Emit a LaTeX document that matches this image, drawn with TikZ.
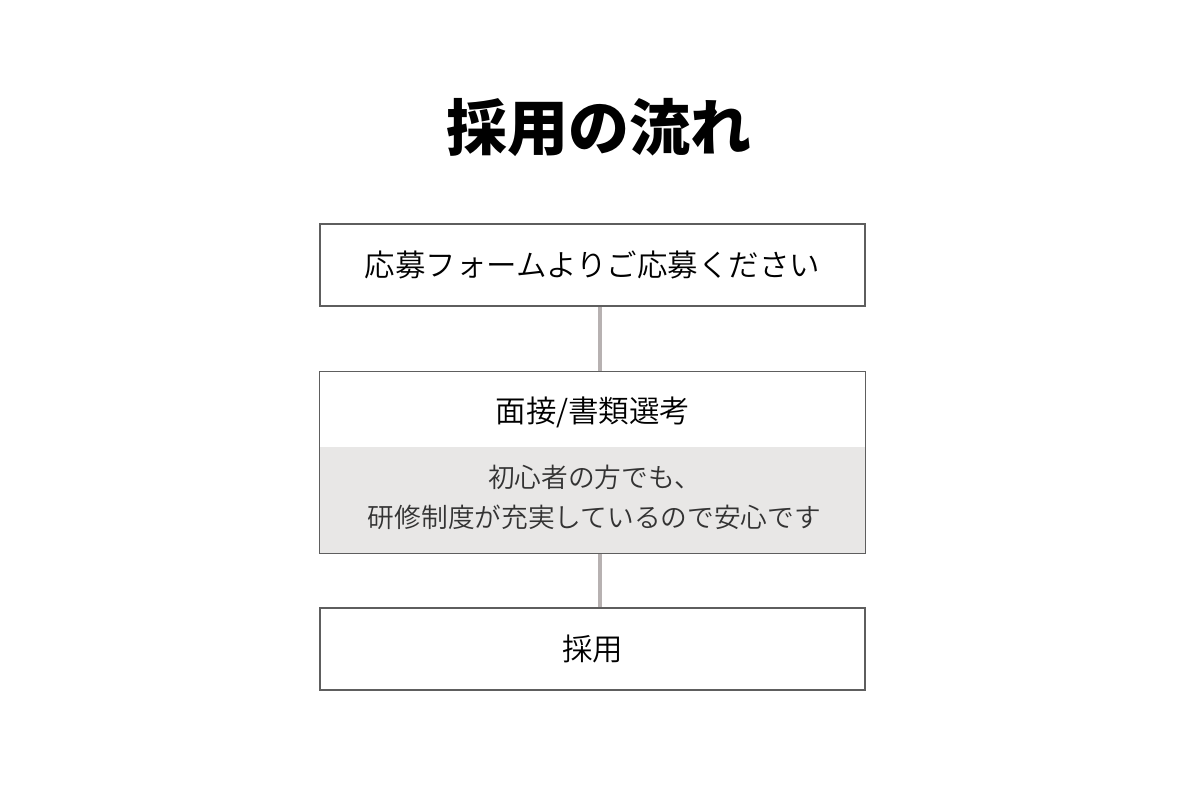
\documentclass[tikz,border=0pt]{standalone}
\usepackage{fontspec}
\newfontfamily\cjk{Noto Sans CJK JP}
\newfontfamily\cjkdemi{Noto Sans CJK JP DemiLight}
\definecolor{borderc}{HTML}{5E5E5E}
\definecolor{linec}{HTML}{B7B1B1}
\definecolor{bandc}{HTML}{E8E7E6}
\definecolor{subtext}{HTML}{333333}
\begin{document}
\begin{tikzpicture}[x=1pt,y=-1pt,
  box/.style={rectangle, draw=borderc, line width=1.3pt, fill=white, minimum width=545pt, minimum height=82pt, inner sep=0pt},
  boxtext/.style={font=\cjkdemi\fontsize{30.5}{34}\selectfont, text=black},
  subtxt/.style={font=\cjkdemi\fontsize{26.7}{40}\selectfont, text=subtext, align=center},
  conn/.style={draw=linec, line width=4.5pt}
]
\useasboundingbox[fill=white] (0,0) rectangle (1200,804);
\coordinate (cx) at (600,0);
% title
\node[font=\cjk\bfseries\fontsize{61}{66}\selectfont] (title) at (599,127) {採用の流れ};
% node frames
\node[box, draw=none, fill=none] (b1) at (592.5,265) {};
\node[minimum width=545pt, minimum height=181pt, inner sep=0pt] (b2) at (592.5,462.5) {};
\node[box, draw=none, fill=none] (b3) at (592.5,649) {};
% connectors (under the boxes)
\draw[conn] (b1.south -| cx) -- (b2.north -| cx);
\draw[conn] (b2.south -| cx) -- (b3.north -| cx);
% box 1
\node[box, boxtext] at (b1) {応募フォームよりご応募ください};
% box 2
\fill[white] (b2.north west) rectangle (b2.south east);
\coordinate (band) at (0,447);
\fill[bandc] (b2.west |- band) rectangle (b2.south east);
\draw[borderc, line width=1.3pt] (b2.north west) rectangle (b2.south east);
\node[boxtext] (b2t) at (593,412) {面接/書類選考};
\node[subtxt] (b2s) at (594.5,497) {初心者の方でも、\\研修制度が充実しているので安心です};
% box 3
\node[box, boxtext] at (b3) {採用};
\end{tikzpicture}
\end{document}
